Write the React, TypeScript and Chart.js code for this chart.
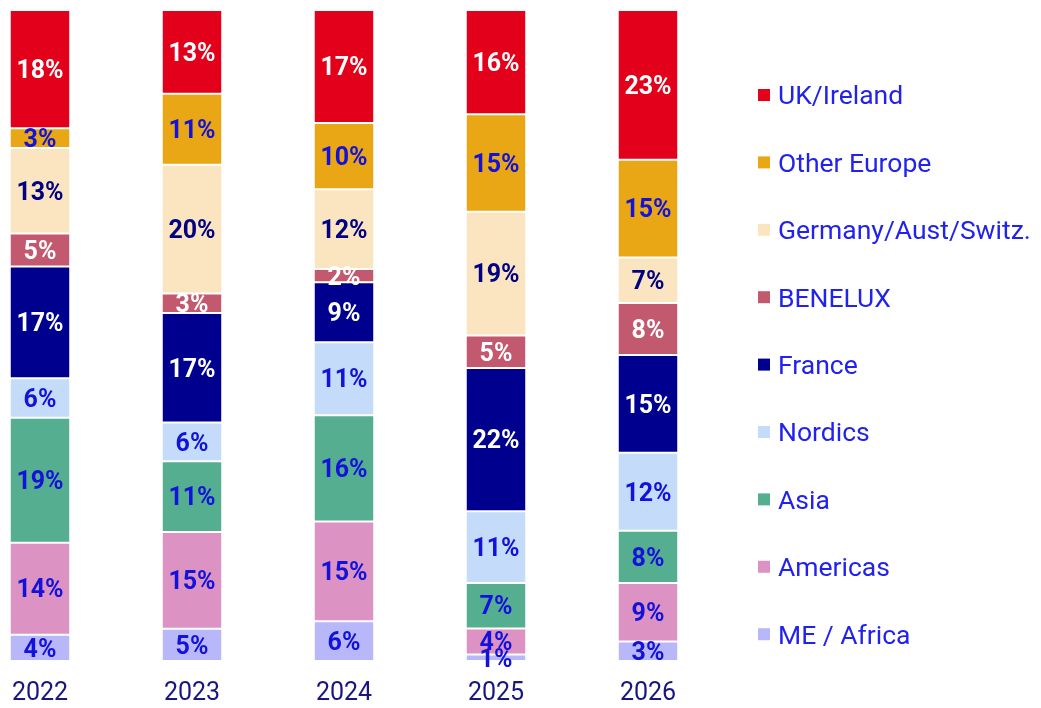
import React, { useEffect, useRef } from 'react';
import { Chart, registerables } from 'chart.js';

Chart.register(...registerables);

// ---- Data (bottom of stack first) ----
const years = ['2022', '2023', '2024', '2025', '2026'];
const meAfrica = [4, 5, 6, 1, 3];
const americas = [14, 15, 15, 4, 9];
const asia = [19, 11, 16, 7, 8];
const nordics = [6, 6, 11, 11, 12];
const france = [17, 17, 9, 22, 15];
const benelux = [5, 3, 2, 5, 8];
const germany = [13, 20, 12, 19, 7];
const otherEurope = [3, 11, 10, 15, 15];
const ukIreland = [18, 13, 17, 16, 23];

const seriesNames = [
  'ME / Africa',
  'Americas',
  'Asia',
  'Nordics',
  'France',
  'BENELUX',
  'Germany/Aust/Switz.',
  'Other Europe',
  'UK/Ireland',
];
const seriesValues = [meAfrica, americas, asia, nordics, france, benelux, germany, otherEurope, ukIreland];

const barColors = [
  '#B7B7FA',
  '#DC93C3',
  '#55AE90',
  '#C4DCFA',
  '#00008E',
  '#C2596F',
  '#FBE5C1',
  '#E9A715',
  '#E2001A',
];
const BLUE = '#1212DA';
const labelColors = [BLUE, BLUE, BLUE, BLUE, '#FFFFFF', '#FFFFFF', '#000080', BLUE, '#FFFFFF'];

const FONT = 'Roboto, "DejaVu Sans", sans-serif';
const LEGEND_TEXT = '#2222EE';
const AXIS_TEXT = '#17177F';

const totals = years.map((_, j) => seriesValues.reduce((s, arr) => s + arr[j], 0));

const barLabelPlugin = {
  id: 'barLabels',
  afterDatasetsDraw(chart: any) {
    const ctx = chart.ctx;
    ctx.save();
    ctx.font = `bold 25px ${FONT}`;
    ctx.textAlign = 'center';
    ctx.textBaseline = 'alphabetic';
    chart.data.datasets.forEach((_ds: any, i: number) => {
      const meta = chart.getDatasetMeta(i);
      meta.data.forEach((el: any, j: number) => {
        const { x, y, base } = el.getProps(['x', 'y', 'base'], true);
        ctx.fillStyle = labelColors[i];
        ctx.fillText(`${seriesValues[i][j]}%`, x, (y + base) / 2 + 8.8);
      });
    });
    ctx.restore();
  },
};

const sideLegendPlugin = {
  id: 'sideLegend',
  afterDraw(chart: any) {
    const ctx = chart.ctx;
    const { right, top } = chart.chartArea;
    const boxX = right + 34;
    const textX = right + 54;
    const firstY = top + 85;
    const step = 67.4;
    ctx.save();
    ctx.font = `26.5px ${FONT}`;
    ctx.textAlign = 'left';
    ctx.textBaseline = 'alphabetic';
    const n = chart.data.datasets.length;
    for (let k = 0; k < n; k++) {
      const ds = chart.data.datasets[n - 1 - k];
      const cy = firstY + k * step;
      ctx.fillStyle = ds.backgroundColor;
      ctx.fillRect(boxX, cy - 6, 12, 12);
      ctx.fillStyle = LEGEND_TEXT;
      ctx.fillText(ds.label, textX, cy + 9.3);
    }
    ctx.restore();
  },
};

export default function App() {
  const canvasRef = useRef<HTMLCanvasElement | null>(null);

  useEffect(() => {
    if (!canvasRef.current) return;
    const chart = new Chart(canvasRef.current, {
      type: 'bar',
      data: {
        labels: years,
        datasets: seriesNames.map((name, i) => ({
          label: name,
          data: seriesValues[i].map((v, j) => (v / totals[j]) * 100),
          backgroundColor: barColors[i],
          borderColor: '#FFFFFF',
          borderWidth: { top: 1, bottom: 1, left: 0, right: 0 },
          borderSkipped: false,
          barPercentage: 0.388,
          categoryPercentage: 1,
        })),
      },
      options: {
        responsive: true,
        maintainAspectRatio: false,
        animation: false,
        layout: { padding: { left: 0, right: 317, top: 10, bottom: 4 } },
        plugins: {
          legend: { display: false },
          tooltip: { enabled: false },
        },
        scales: {
          x: {
            stacked: true,
            grid: { display: false, drawTicks: false },
            border: { display: false },
            ticks: { color: AXIS_TEXT, font: { family: FONT, size: 25 }, padding: 18 },
          },
          y: { stacked: true, display: false, min: 0, max: 100 },
        },
      },
      plugins: [barLabelPlugin, sideLegendPlugin],
    } as any);
    return () => chart.destroy();
  }, []);

  return (
    <div style={{ position: 'fixed', left: -36, top: 0, width: 1077, height: 731, background: '#fff' }}>
      <canvas ref={canvasRef} />
    </div>
  );
}
